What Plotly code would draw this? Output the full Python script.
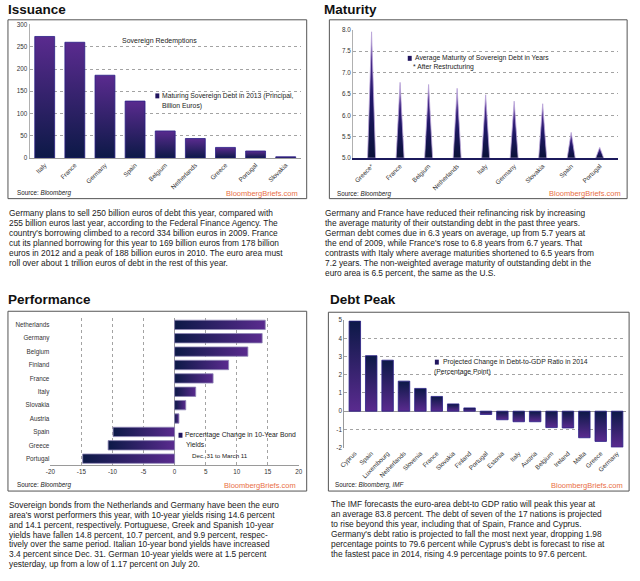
import plotly.graph_objects as go

W, H = 640, 581

# ---------------- data ----------------
iss_countries = ["Italy", "France", "Germany", "Spain", "Belgium", "Netherlands", "Greece", "Portugal", "Slovakia"]
iss_values = [273, 260, 186, 128, 61, 44, 24, 16, 3]

mat_countries = ["Greece*", "France", "Belgium", "Netherlands", "Italy", "Germany", "Slovakia", "Spain", "Portugal"]
mat_values = [7.95, 6.77, 6.72, 6.63, 6.48, 6.33, 6.27, 5.6, 5.25]

perf_countries = ["Netherlands", "Germany", "Belgium", "Finland", "France", "Italy", "Slovakia", "Austria", "Spain", "Greece", "Portugal"]
perf_values = [14.6, 14.1, 11.8, 8.7, 6.2, 3.4, 1.8, 0.7, -9.9, -10.7, -14.8]

debt_countries = ["Cyprus", "Spain", "Luxembourg", "Netherlands", "Slovenia", "France", "Slovakia", "Finland", "Portugal",
                  "Estonia", "Italy", "Austria", "Belgium", "Ireland", "Malta", "Greece", "Germany"]
debt_values = [4.95, 3.05, 2.8, 1.65, 1.25, 0.81, 0.4, 0.18, -0.18, -0.47, -0.58, -0.58, -0.9, -0.92, -1.46, -1.66, -1.98]

iss_ticks = [0, 50, 100, 150, 200, 250, 300]
mat_ticks = [5.0, 5.5, 6.0, 6.5, 7.0, 7.5, 8.0]
perf_ticks = [-20, -15, -10, -5, 0, 5, 10, 15, 20]
debt_ticks = [-2, -1, 0, 1, 2, 3, 4, 5]

text1 = [
    "Germany plans to sell 250 billion euros of debt this year, compared with",
    "255 billion euros last year, according to the Federal Finance Agency. The",
    "country's borrowing climbed to a record 334 billion euros in 2009. France",
    "cut its planned borrowing for this year to 169 billion euros from 178 billion",
    "euros in 2012 and a peak of 188 billion euros in 2010. The euro area must",
    "roll over about 1 trillion euros of debt in the rest of this year.",
]
text2 = [
    "Germany and France have reduced their refinancing risk by increasing",
    "the average maturity of their outstanding debt in the past three years.",
    "German debt comes due in 6.3 years on average, up from 5.7 years at",
    "the end of 2009, while France's rose to 6.8 years from 6.7 years. That",
    "contrasts with Italy where average maturities shortened to 6.5 years from",
    "7.2 years. The non-weighted average maturity of outstanding debt in the",
    "euro area is 6.5 percent, the same as the U.S.",
]
text3 = [
    "Sovereign bonds from the Netherlands and Germany have been the euro",
    "area's worst performers this year, with 10-year yields rising 14.6 percent",
    "and 14.1 percent, respectively. Portuguese, Greek and Spanish 10-year",
    "yields have fallen 14.8 percent, 10.7 percent, and 9.9 percent, respec-",
    "tively over the same period. Italian 10-year bond yields have increased",
    "3.4 percent since Dec. 31. German 10-year yields were at 1.5 percent",
    "yesterday, up from a low of 1.17 percent on July 20.",
]
text4 = [
    "The IMF forecasts the euro-area debt-to GDP ratio will peak this year at",
    "an average 83.8 percent. The debt of seven of the 17 nations is projected",
    "to rise beyond this year, including that of Spain, France and Cyprus.",
    "Germany's debt ratio is projected to fall the most next year, dropping 1.98",
    "percentage points to 79.6 percent while Cyprus's debt is forecast to rise at",
    "the fastest pace in 2014, rising 4.9 percentage points to 97.6 percent.",
]

# ---------------- helpers ----------------
FONT = "Liberation Sans, Arial, sans-serif"
NAVY = "#0c1947"
PURPLE = "#5a2b8f"


def fx(p):
    return p / W


def fy(p):
    return 1 - p / H


fig = go.Figure()

# Issuance bars (vertical gradient, navy bottom -> purple top)
hw = 0.33
for i, v in enumerate(iss_values):
    fig.add_trace(go.Scatter(
        x=[i - hw, i - hw, i + hw, i + hw, i - hw], y=[0, v, v, 0, 0],
        mode="lines", fill="toself", line=dict(color="#2a1f86", width=0.8),
        fillgradient=dict(type="vertical", colorscale=[[0, NAVY], [1, PURPLE]]),
        xaxis="x", yaxis="y", showlegend=False, hoverinfo="skip"))

# Maturity spikes
sw = 0.14
for i, v in enumerate(mat_values):
    fig.add_trace(go.Scatter(
        x=[i - sw, i, i + sw, i - sw], y=[5, v, 5, 5],
        mode="lines", fill="toself", line=dict(color="#b9a3d8", width=0.8),
        fillgradient=dict(type="vertical",
                          colorscale=[[0, "#0a1238"], [0.45, "#1f1766"], [0.8, "#4a2a8c"], [1, "#8d6cc0"]]),
        xaxis="x2", yaxis="y2", showlegend=False, hoverinfo="skip"))

# Performance bars (horizontal gradient navy left -> purple right)
hh = 0.35
for i, v in enumerate(perf_values):
    fig.add_trace(go.Scatter(
        x=[0, v, v, 0, 0], y=[i - hh, i - hh, i + hh, i + hh, i - hh],
        mode="lines", fill="toself", line=dict(color="#8f86b6", width=0.8),
        fillgradient=dict(type="horizontal", colorscale=[[0, NAVY], [1, PURPLE]]),
        xaxis="x3", yaxis="y3", showlegend=False, hoverinfo="skip"))

# Debt peak bars (navy top -> purple bottom)
dw = 0.35
for i, v in enumerate(debt_values):
    fig.add_trace(go.Scatter(
        x=[i - dw, i - dw, i + dw, i + dw, i - dw], y=[0, v, v, 0, 0],
        mode="lines", fill="toself", line=dict(color="#2a1f86", width=0.8),
        fillgradient=dict(type="vertical", colorscale=[[0, PURPLE], [1, NAVY]]),
        xaxis="x4", yaxis="y4", showlegend=False, hoverinfo="skip"))

tickfont = dict(family=FONT, size=6.3, color="#333")
grid = dict(showgrid=True, gridcolor="#a3a3a3", griddash="dot", gridwidth=1)

layout = dict(
    width=W, height=H, margin=dict(l=0, r=0, t=0, b=0),
    paper_bgcolor="white", plot_bgcolor="rgba(0,0,0,0)",
    font=dict(family=FONT, color="#222"),
    xaxis=dict(domain=[fx(25), fx(300)], range=[-0.5, 8.5], tickvals=list(range(len(iss_countries))),
               ticktext=iss_countries, tickangle=-45, tickfont=tickfont, showgrid=False, zeroline=False,
               showline=True, linecolor="#9a9a9a", anchor="y"),
    yaxis=dict(domain=[fy(156), fy(20.7)], range=[0, 300], tickvals=iss_ticks, tickfont=tickfont,
               zeroline=False, showline=True, linecolor="#b0b0b0", anchor="x", **grid),
    xaxis2=dict(domain=[fx(353), fx(622)], range=[-0.65, 8.65], tickvals=list(range(len(mat_countries))),
                ticktext=mat_countries, tickangle=-45, tickfont=tickfont, showgrid=False, zeroline=False,
                showline=True, linecolor="#1c1a5c", linewidth=2, anchor="y2"),
    yaxis2=dict(domain=[fy(156), fy(26)], range=[5, 8], tickvals=mat_ticks, tickformat=".1f", tickfont=tickfont,
                zeroline=False, showline=True, linecolor="#b0b0b0", anchor="x2", **grid),
    xaxis3=dict(domain=[fx(46), fx(298)], range=[-20, 20], tickvals=perf_ticks,
                ticktext=[str(t) for t in perf_ticks], tickfont=tickfont,
                zeroline=True, zerolinecolor="#9a9a9a", zerolinewidth=1,
                showline=True, linecolor="#9a9a9a", anchor="y3", **grid),
    yaxis3=dict(domain=[fy(467), fy(318)], range=[len(perf_countries) - 0.5, -0.5],
                tickvals=list(range(len(perf_countries))), ticktext=perf_countries, tickfont=tickfont,
                showgrid=False, zeroline=False, showline=False, anchor="x3"),
    xaxis4=dict(domain=[fx(344), fx(630)], range=[-0.65, 16.55], tickvals=list(range(len(debt_countries))),
                ticktext=debt_countries, tickangle=-45, tickfont=tickfont, showgrid=False, zeroline=False,
                showline=False, anchor="y4"),
    yaxis4=dict(domain=[fy(449), fy(320)], range=[-2, 5], tickvals=debt_ticks,
                ticktext=[str(t) for t in debt_ticks], tickfont=tickfont,
                zeroline=True, zerolinecolor="#9a9a9a", zerolinewidth=1,
                showline=True, linecolor="#9a9a9a", anchor="x4", **grid),
)
fig.update_layout(**layout)

shapes = []
# panel boxes
for (x0, y0, x1, y1) in [(3, 16, 306, 197), (329, 16, 631, 197), (3, 311, 306, 493), (328, 312, 633, 493)]:
    shapes.append(dict(type="rect", xref="paper", yref="paper", x0=fx(x0), x1=fx(x1), y0=fy(y1), y1=fy(y0),
                       line=dict(color="#555", width=1), fillcolor="rgba(0,0,0,0)", layer="above"))
# legend squares
for (cx, cy) in [(154.5, 93), (410.5, 55), (178, 436.5), (438, 362.5)]:
    shapes.append(dict(type="rect", xref="paper", yref="paper", x0=fx(cx - 2), x1=fx(cx + 2),
                       y0=fy(cy + 2.5), y1=fy(cy - 2.5), line=dict(width=0), fillcolor="#20145e"))
fig.update_layout(shapes=shapes)

ann = []


def A(text, x, y, size, xanchor="left", color="#222", bold=False):
    if bold:
        text = "<b>" + text + "</b>"
    ann.append(dict(text=text, x=fx(x), y=fy(y), xref="paper", yref="paper", xanchor=xanchor, yanchor="middle",
                    showarrow=False, font=dict(family=FONT, size=size, color=color)))


# titles
A("Issuance", 1.5, 5.5, 13.5, bold=True, color="#111")
A("Maturity", 321.5, 5.5, 13.5, bold=True, color="#111")
A("Performance", 1.5, 299, 13.5, bold=True, color="#111")
A("Debt Peak", 327.5, 299, 13.5, bold=True, color="#111")

# chart texts
A("Sovereign Redemptions", 157, 37.5, 7, xanchor="center")
A("Maturing Sovereign Debt in 2013 (Principal,", 157.5, 93, 6.8)
A("Billion Euros)", 157.5, 103, 6.8)
A("Average Maturity of Sovereign Debt in Years", 413.5, 55, 6.8)
A("* After Restructuring", 411.5, 64, 6.8)
A("Percentage Change in 10-Year Bond", 181, 436.5, 6.8)
A("Yields", 181.5, 445.5, 6.8)
A("Dec. 31 to March 11", 187.5, 457.5, 6.2)
A("Projected Change in Debt-to-GDP Ratio in 2014", 442, 362.5, 6.8)
A("(Percentage Point)", 433.5, 372.5, 6.8)

# sources
ORANGE = "#e96f45"
A("Source: <i>Bloomberg</i>", 10, 191, 6.3)
A("BloombergBriefs.com", 299.5, 192, 7.5, xanchor="right", color=ORANGE)
A("Source: <i>Bloomberg</i>", 334.5, 192, 6.3)
A("BloombergBriefs.com", 627, 192, 7.5, xanchor="right", color=ORANGE)
A("Source: <i>Bloomberg</i>", 10, 486.5, 6.3)
A("BloombergBriefs.com", 297.5, 487, 7.5, xanchor="right", color=ORANGE)
A("Source: <i>Bloomberg, IMF</i>", 333, 487, 6.3)
A("BloombergBriefs.com", 629, 487, 7.5, xanchor="right", color=ORANGE)

# body paragraphs
BODY = 8.35
for k, line in enumerate(text1):
    A(line, 2.5, 212 + 10 * k, BODY, color="#1a1a1a")
for k, line in enumerate(text2):
    A(line, 322.5, 212 + 10 * k, BODY, color="#1a1a1a")
for k, line in enumerate(text3):
    A(line, 2.5, 507 + 10 * k, BODY, color="#1a1a1a")
for k, line in enumerate(text4):
    A(line, 328.5, 506.5 + 10.1 * k, BODY, color="#1a1a1a")

fig.update_layout(annotations=ann)

fig.write_html("out.html")
